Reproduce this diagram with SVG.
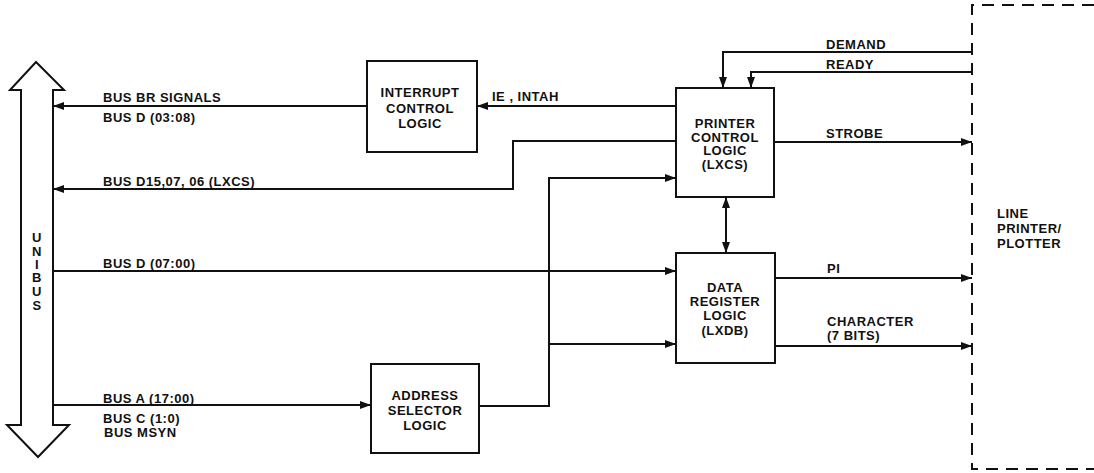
<svg xmlns="http://www.w3.org/2000/svg" width="1094" height="473" viewBox="0 0 1094 473">
<style>
.box{fill:#fff;stroke:#111;stroke-width:2}
.ln{fill:none;stroke:#111;stroke-width:2}
.t{font-family:"Liberation Sans",Arial,sans-serif;font-weight:bold;font-size:13px;fill:#111;letter-spacing:0.5px}
.c{text-anchor:middle}
</style>
<defs>
<marker id="ah" markerUnits="userSpaceOnUse" markerWidth="11" markerHeight="8" refX="11" refY="4" orient="auto-start-reverse">
<path d="M0,0 L11,4 L0,8 z" fill="#111"/>
</marker>
</defs>
<rect width="1094" height="473" fill="#fff"/>

<g id="unibus">
<polygon class="box" points="36,62 64,90 53,90 53,425 69,425 38,457 7,425 21,425 21,90 10,90"/>
<text class="t c" x="37" y="242">U</text>
<text class="t c" x="37" y="256">N</text>
<text class="t c" x="37" y="269">I</text>
<text class="t c" x="37" y="282">B</text>
<text class="t c" x="37" y="296">U</text>
<text class="t c" x="37" y="310">S</text>
</g>

<g id="interrupt">
<rect class="box" x="367" y="61" width="110" height="91"/>
<text class="t c" x="420" y="97">INTERRUPT</text>
<text class="t c" x="420" y="113">CONTROL</text>
<text class="t c" x="420" y="128">LOGIC</text>
</g>

<g id="printer-control">
<rect class="box" x="676" y="88" width="98" height="109"/>
<text class="t c" x="725" y="128">PRINTER</text>
<text class="t c" x="725" y="142">CONTROL</text>
<text class="t c" x="725" y="155">LOGIC</text>
<text class="t c" x="725" y="169">(LXCS)</text>
</g>

<g id="data-register">
<rect class="box" x="676" y="253" width="99" height="110"/>
<text class="t c" x="725" y="292">DATA</text>
<text class="t c" x="725" y="306">REGISTER</text>
<text class="t c" x="725" y="320">LOGIC</text>
<text class="t c" x="725" y="335">(LXDB)</text>
</g>

<g id="address-selector">
<rect class="box" x="371" y="364" width="108" height="89"/>
<text class="t c" x="425" y="400">ADDRESS</text>
<text class="t c" x="425" y="415">SELECTOR</text>
<text class="t c" x="425" y="430">LOGIC</text>
</g>

<g id="line-printer">
<path class="ln" d="M1094,5 H972 V469 H1094" stroke-dasharray="12,8"/>
<text class="t" x="997" y="218">LINE</text>
<text class="t" x="997" y="233">PRINTER/</text>
<text class="t" x="997" y="248">PLOTTER</text>
</g>

<g id="connectors">
<path class="ln" d="M367,106 H53" marker-end="url(#ah)"/>
<path class="ln" d="M676,106 H477" marker-end="url(#ah)"/>
<path class="ln" d="M676,141 H513 V189 H53" marker-end="url(#ah)"/>
<path class="ln" d="M53,271 H676" marker-end="url(#ah)"/>
<path class="ln" d="M53,405 H371" marker-end="url(#ah)"/>
<path class="ln" d="M479,406 H549 V178 H676" marker-end="url(#ah)"/>
<path class="ln" d="M549,344 H676" marker-end="url(#ah)"/>
<path class="ln" d="M726,197 V253" marker-start="url(#ah)" marker-end="url(#ah)"/>
<path class="ln" d="M972,52 H723 V88" marker-end="url(#ah)"/>
<path class="ln" d="M972,72 H751 V88" marker-end="url(#ah)"/>
<path class="ln" d="M774,142 H972" marker-end="url(#ah)"/>
<path class="ln" d="M775,278 H972" marker-end="url(#ah)"/>
<path class="ln" d="M775,346 H972" marker-end="url(#ah)"/>
</g>

<g id="labels">
<text class="t" x="103" y="102">BUS BR SIGNALS</text>
<text class="t" x="103" y="122">BUS D (03:08)</text>
<text class="t" x="103" y="186">BUS D15,07, 06 (LXCS)</text>
<text class="t" x="103" y="268">BUS D (07:00)</text>
<text class="t" x="103" y="403">BUS A (17:00)</text>
<text class="t" x="103" y="423">BUS C (1:0)</text>
<text class="t" x="104" y="437">BUS MSYN</text>
<text class="t" x="492" y="101">IE , INTAH</text>
<text class="t" x="826" y="49">DEMAND</text>
<text class="t" x="826" y="69">READY</text>
<text class="t" x="826" y="138">STROBE</text>
<text class="t" x="827" y="273">PI</text>
<text class="t" x="827" y="326">CHARACTER</text>
<text class="t" x="827" y="340">(7 BITS)</text>
</g>
</svg>
